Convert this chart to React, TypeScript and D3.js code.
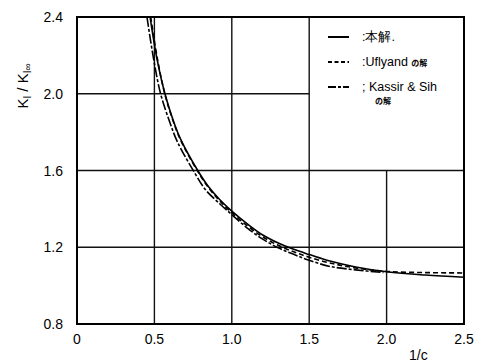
import { useEffect, useRef } from "react";
import * as d3 from "d3";

// x = 1/c, y = K_I / K_I∞
const xTicks = [0, 0.5, 1.0, 1.5, 2.0, 2.5];
const yTicks = [0.8, 1.2, 1.6, 2.0, 2.4];

// 本解 (solid)
const presentX = [0.472, 0.517, 0.568, 0.62, 0.67, 0.78, 0.85, 0.92, 1.0, 1.1, 1.2, 1.3, 1.4, 1.5, 1.634, 1.8, 2.0, 2.25, 2.5];
const presentY = [2.4, 2.18, 2.0, 1.865, 1.762, 1.6, 1.515, 1.45, 1.388, 1.322, 1.264, 1.222, 1.189, 1.162, 1.128, 1.097, 1.072, 1.055, 1.044];

// Uflyand の解 (dashed)
const uflyandX = [0.476, 0.52, 0.567, 0.62, 0.67, 0.78, 0.85, 0.92, 1.0, 1.1, 1.2, 1.3, 1.4, 1.5, 1.634, 1.8, 2.0, 2.25, 2.5];
const uflyandY = [2.4, 2.18, 2.0, 1.86, 1.757, 1.595, 1.51, 1.443, 1.38, 1.312, 1.254, 1.21, 1.176, 1.148, 1.118, 1.092, 1.074, 1.068, 1.066];

// Kassir & Sih の解 (dash-dot)
const kassirX = [0.452, 0.495, 0.54, 0.6, 0.65, 0.76, 0.83, 0.92, 1.0, 1.1, 1.2, 1.3, 1.4, 1.5, 1.634, 1.8, 1.98];
const kassirY = [2.4, 2.18, 2.0, 1.85, 1.747, 1.588, 1.5, 1.428, 1.37, 1.3, 1.242, 1.197, 1.163, 1.132, 1.1, 1.082, 1.068];

const legendLabels = [":本解.", ":Uflyand ", "; Kassir & Sih"];

const App = () => {
  const svgRef = useRef<SVGSVGElement>(null);

  useEffect(() => {
    const w = 477;
    const h = 363;
    const left = 77, right = 464, top = 17, bottom = 324;
    const font = "'Liberation Sans', Arial, sans-serif";
    const cjk = "'Noto Sans CJK JP', sans-serif";

    const svg = d3.select(svgRef.current).attr("width", w).attr("height", h);
    svg.selectAll("*").remove();
    svg.append("rect").attr("width", w).attr("height", h).attr("fill", "#fff");

    const x = d3.scaleLinear().domain([0, 2.5]).range([left, right]);
    const y = d3.scaleLinear().domain([0.8, 2.4]).range([bottom, top]);

    // grid (legend box sits in the upper right cells)
    const grid = svg.append("g").attr("stroke", "#111").attr("stroke-width", 1.4);
    [0.5, 1.0, 1.5].forEach((v) => {
      grid.append("line").attr("x1", x(v)).attr("x2", x(v)).attr("y1", y(2.4)).attr("y2", y(0.8));
    });
    grid.append("line").attr("x1", x(2.0)).attr("x2", x(2.0)).attr("y1", y(1.6)).attr("y2", y(0.8));
    grid.append("line").attr("x1", x(0)).attr("x2", x(1.5)).attr("y1", y(2.0)).attr("y2", y(2.0));
    [1.2, 1.6].forEach((v) => {
      grid.append("line").attr("x1", x(0)).attr("x2", x(2.5)).attr("y1", y(v)).attr("y2", y(v));
    });

    // frame
    svg.append("rect")
      .attr("x", x(0)).attr("y", y(2.4))
      .attr("width", x(2.5) - x(0)).attr("height", y(0.8) - y(2.4))
      .attr("fill", "none").attr("stroke", "#000").attr("stroke-width", 2);

    // tick labels
    svg.append("g").selectAll("text").data(xTicks).join("text")
      .attr("x", (d) => x(d)).attr("y", 344)
      .attr("text-anchor", "middle")
      .attr("font-family", font).attr("font-size", 14)
      .text((d) => (d === 0 ? "0" : d.toFixed(1)));

    svg.append("g").selectAll("text").data(yTicks).join("text")
      .attr("x", 63).attr("y", (d) => y(d) + 5)
      .attr("text-anchor", "end")
      .attr("font-family", font).attr("font-size", 14)
      .text((d) => d.toFixed(1));

    // axis titles
    svg.append("text").attr("x", 409).attr("y", 360)
      .attr("font-family", font).attr("font-size", 14).text("1/c");

    const yt = svg.append("text")
      .attr("transform", "translate(28,86) rotate(-90)")
      .attr("text-anchor", "middle")
      .attr("font-family", font).attr("font-size", 15);
    yt.append("tspan").text("K");
    yt.append("tspan").attr("font-size", 10).attr("dy", 3).text("I");
    yt.append("tspan").attr("dy", -3).text(" / K");
    yt.append("tspan").attr("font-size", 10).attr("dy", 3).text("I∞");

    // curves
    svg.append("clipPath").attr("id", "plot-clip").append("rect")
      .attr("x", left).attr("y", top).attr("width", right - left).attr("height", bottom - top);

    const line = d3.line<[number, number]>()
      .x((d) => x(d[0]))
      .y((d) => y(d[1]))
      .curve(d3.curveCatmullRom.alpha(0.5));

    const series = [
      { xs: presentX, ys: presentY, dash: null },
      { xs: uflyandX, ys: uflyandY, dash: "5,3" },
      { xs: kassirX, ys: kassirY, dash: "10,2,3,2" },
    ];
    const curves = svg.append("g").attr("clip-path", "url(#plot-clip)");
    series.forEach((s) => {
      curves.append("path")
        .datum(s.xs.map((v, i) => [v, s.ys[i]] as [number, number]))
        .attr("d", line)
        .attr("fill", "none")
        .attr("stroke", "#000")
        .attr("stroke-width", 1.6)
        .attr("stroke-dasharray", s.dash);
    });

    // legend
    const rows = [37, 62, 87];
    const dashes = [null, "4,2.5", "8,2,3,2"];
    const lg = svg.append("g");
    rows.forEach((ry, i) => {
      lg.append("line").attr("x1", 328).attr("x2", 349).attr("y1", ry).attr("y2", ry)
        .attr("stroke", "#000").attr("stroke-width", 2).attr("stroke-dasharray", dashes[i]);
      const t = lg.append("text").attr("x", 362).attr("y", ry + 4)
        .attr("font-family", font).attr("font-size", 12.5).text(legendLabels[i]);
      if (i === 1) {
        t.append("tspan").attr("font-family", cjk).attr("font-size", 8).attr("font-weight", "bold").text("の解");
      }
    });
    lg.append("text").attr("x", 375).attr("y", 104)
      .attr("font-family", cjk).attr("font-size", 8).attr("font-weight", "bold").text("の解");
  }, []);

  return (
    <svg ref={svgRef} style={{ position: "absolute", left: 0, top: 0, display: "block" }}></svg>
  );
};

export default App;
